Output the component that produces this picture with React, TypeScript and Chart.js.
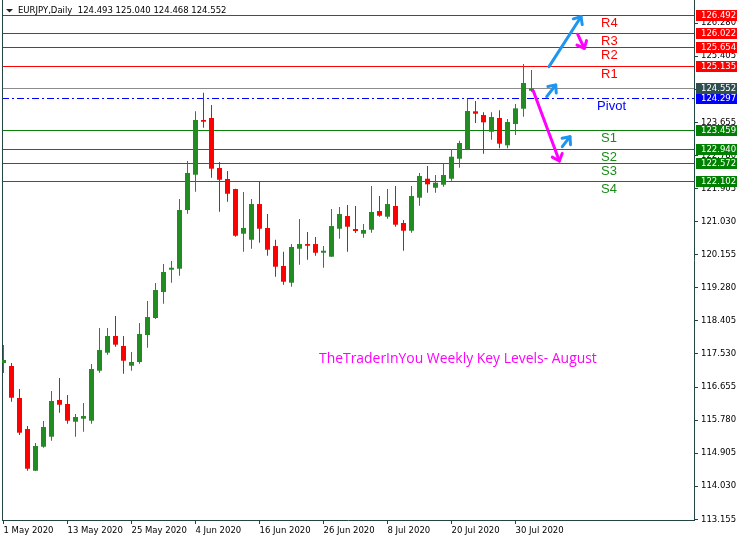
import React, { useEffect, useRef } from 'react';
import { Chart, registerables } from 'chart.js';

Chart.register(...registerables);

// ---------- data ----------
const symbol = 'EURJPY';
const timeframe = 'Daily';

const dates = [
  '2020-05-01', '2020-05-04', '2020-05-05', '2020-05-06', '2020-05-07', '2020-05-08',
  '2020-05-11', '2020-05-12', '2020-05-13', '2020-05-14', '2020-05-15',
  '2020-05-18', '2020-05-19', '2020-05-20', '2020-05-21', '2020-05-22',
  '2020-05-25', '2020-05-26', '2020-05-27', '2020-05-28', '2020-05-29',
  '2020-06-01', '2020-06-02', '2020-06-03', '2020-06-04', '2020-06-05',
  '2020-06-08', '2020-06-09', '2020-06-10', '2020-06-11', '2020-06-12',
  '2020-06-15', '2020-06-16', '2020-06-17', '2020-06-18', '2020-06-19',
  '2020-06-22', '2020-06-23', '2020-06-24', '2020-06-25', '2020-06-26',
  '2020-06-29', '2020-06-30', '2020-07-01', '2020-07-02', '2020-07-03',
  '2020-07-06', '2020-07-07', '2020-07-08', '2020-07-09', '2020-07-10',
  '2020-07-13', '2020-07-14', '2020-07-15', '2020-07-16', '2020-07-17',
  '2020-07-20', '2020-07-21', '2020-07-22', '2020-07-23', '2020-07-24',
  '2020-07-27', '2020-07-28', '2020-07-29', '2020-07-30', '2020-07-31',
  '2020-08-03',
];

const opens = [
  117.29, 117.21, 116.364, 115.543, 114.44, 115.075,
  115.34, 116.311, 116.205, 115.737, 115.816,
  115.763, 117.086, 117.562, 118.004, 117.739,
  117.218, 117.316, 118.03, 118.48, 119.168,
  119.758, 119.784, 121.337, 122.271, 123.718,
  123.771, 122.448, 122.157, 121.892, 120.71,
  120.551, 121.495, 120.861, 120.384, 119.856,
  119.414, 120.313, 120.437, 120.437, 120.207,
  120.102, 120.842, 121.178, 120.834, 120.71,
  120.816, 121.31, 121.16, 121.443, 120.993,
  120.789, 121.663, 122.165, 121.927, 122.006,
  122.165, 122.694, 122.943, 123.948, 123.85,
  123.408, 123.771, 123.049, 123.612, 124.017,
  124.493,
];
const highs = [
  117.766, 117.29, 116.602, 115.623, 115.173, 115.755,
  116.549, 116.893, 116.443, 115.94, 116.231,
  117.263, 118.215, 118.215, 118.533, 118.004,
  117.58, 118.348, 118.93, 119.406, 119.908,
  119.988, 121.627, 122.633, 123.948, 124.441,
  124.115, 122.607, 122.369, 121.9, 121.813,
  121.627, 122.104, 121.231, 120.551, 120.234,
  120.437, 121.098, 120.755, 120.622, 120.384,
  121.363, 121.416, 121.469, 121.443, 120.966,
  121.972, 121.707, 121.892, 121.972, 121.072,
  121.972, 122.316, 122.501, 122.263, 122.554,
  122.951, 123.17, 124.281, 124.221, 123.922,
  123.922, 123.975, 123.744, 124.141, 125.199,
  125.04,
];
const lows = [
  117.025, 116.265, 115.385, 114.44, 114.43, 115.049,
  115.234, 115.975, 115.684, 115.34, 115.472,
  115.684, 117.033, 117.509, 117.721, 117.006,
  117.086, 117.271, 117.694, 118.454, 118.858,
  119.414, 119.599, 121.239, 121.821, 123.514,
  122.191, 121.292, 121.557, 120.631, 120.234,
  120.313, 120.472, 120.128, 119.572, 119.361,
  119.308, 119.89, 120.022, 120.128, 119.811,
  120.1, 120.578, 120.234, 120.728, 120.604,
  120.737, 121.16, 121.107, 120.895, 120.26,
  120.737, 121.451, 121.795, 121.795, 121.954,
  122.112, 122.456, 122.94, 123.638, 122.827,
  123.197, 122.969, 122.969, 123.321, 123.805,
  124.468,
];
const closes = [
  117.37, 116.371, 115.446, 114.493, 115.094, 115.596,
  116.284, 116.186, 115.763, 115.861, 115.887,
  117.131, 117.633, 118.004, 117.774, 117.35,
  117.316, 118.057, 118.506, 119.221, 119.697,
  119.81, 121.337, 122.316, 123.718, 123.673,
  122.43, 122.138, 121.768, 120.657, 120.861,
  121.495, 120.842, 120.287, 119.837, 119.44,
  120.358, 120.437, 120.392, 120.207, 120.26,
  120.913, 121.231, 120.895, 120.781, 120.808,
  121.284, 121.186, 121.495, 120.948, 120.789,
  121.707, 122.236, 122.017, 122.059, 122.263,
  122.747, 123.109, 123.956, 123.885, 123.657,
  123.797, 123.091, 123.665, 124.027, 124.697,
  124.552,
];

const xTickIndices = [0, 8, 16, 24, 32, 40, 48, 56, 64];
const xTickLabels = [
  '1 May 2020', '13 May 2020', '25 May 2020', '4 Jun 2020', '16 Jun 2020',
  '26 Jun 2020', '8 Jul 2020', '20 Jul 2020', '30 Jul 2020',
];
const yTickValues = [
  113.155, 114.03, 114.905, 115.78, 116.655, 117.53, 118.405, 119.28,
  120.155, 121.03, 121.905, 122.78, 123.655, 124.53, 125.405, 126.28,
];

const levelNames = ['R4', 'R3', 'R2', 'R1', 'Pivot', 'S1', 'S2', 'S3', 'S4'];
const levelValues = [126.492, 126.022, 125.654, 125.135, 124.297, 123.459, 122.94, 122.572, 122.102];

const arrowFromIdx = [68.19, 71.78, 67.9, 66.23, 69.85];
const arrowFromPrice = [125.129, 125.986, 124.335, 124.486, 123.012];
const arrowToIdx = [72.19, 72.6, 69.03, 69.48, 70.81];
const arrowToPrice = [126.451, 125.615, 124.644, 122.634, 123.277];

const noteText = 'TheTraderInYou Weekly Key Levels- August';
const noteIdx = 56.8;
const notePrice = 117.396;

// ---------- styles ----------
const BULL = '#228b22';
const BEAR = '#ff0000';
const RES = '#ff0000';
const SUP = '#0a800a';
const SUP_TEXT = '#1a8a1a';
const PIVOT = '#0000ff';
const PRICE_LINE = '#8c8c8c';
const PRICE_BOX = '#2f4f4f';
const AXIS = '#234444';
const TEXT = '#000000';
const MAGENTA = '#ff00ff';
const BLUE = '#1e96f0';
const AXIS_FONT = 'DejaVu Sans';
const LABEL_IDX = 74.7;
const PIVOT_LABEL_IDX = 74.2;

function levelStyle(name: string) {
  if (name === 'Pivot') return { line: PIVOT, box: PIVOT, text: PIVOT };
  if (name.startsWith('R')) return { line: RES, box: RES, text: RES };
  return { line: SUP, box: '#008000', text: SUP_TEXT };
}

function drawArrow(ctx: CanvasRenderingContext2D, x1: number, y1: number, x2: number, y2: number, color: string) {
  ctx.save();
  ctx.strokeStyle = color;
  ctx.lineWidth = 3;
  ctx.lineCap = 'round';
  ctx.lineJoin = 'round';
  ctx.beginPath();
  ctx.moveTo(x1, y1);
  ctx.lineTo(x2, y2);
  ctx.stroke();
  const a = Math.atan2(y2 - y1, x2 - x1);
  const L = 8;
  const s = 0.72;
  ctx.beginPath();
  ctx.moveTo(x2 - L * Math.cos(a - s), y2 - L * Math.sin(a - s));
  ctx.lineTo(x2, y2);
  ctx.lineTo(x2 - L * Math.cos(a + s), y2 - L * Math.sin(a + s));
  ctx.stroke();
  ctx.restore();
}

const overlayPlugin = {
  id: 'mt4Overlay',
  beforeDatasetsDraw(chart: any) {
    const { ctx, chartArea: a, scales } = chart;
    const y = scales.y;
    ctx.save();
    ctx.lineWidth = 1;
    levelNames.forEach((name, i) => {
      const st = levelStyle(name);
      const py = Math.round(y.getPixelForValue(levelValues[i])) + 0.5;
      ctx.strokeStyle = st.line;
      ctx.setLineDash(name === 'Pivot' ? [7, 3, 2, 3] : []);
      ctx.beginPath();
      ctx.moveTo(a.left, py);
      ctx.lineTo(a.right, py);
      ctx.stroke();
    });
    ctx.setLineDash([]);
    const last = closes.length - 1;
    const cp = Math.round(y.getPixelForValue(closes[last])) + 0.5;
    ctx.strokeStyle = PRICE_LINE;
    ctx.beginPath();
    ctx.moveTo(a.left, cp);
    ctx.lineTo(a.right, cp);
    ctx.stroke();
    // left frame
    ctx.strokeStyle = AXIS;
    ctx.beginPath();
    ctx.moveTo(a.left + 0.5, a.top);
    ctx.lineTo(a.left + 0.5, a.bottom);
    ctx.stroke();
    ctx.restore();
  },
  afterDraw(chart: any) {
    const { ctx, chartArea: a, scales } = chart;
    const x = scales.x;
    const y = scales.y;
    ctx.save();

    // arrows
    arrowFromIdx.forEach((_, i) => {
      const x1 = x.getPixelForValue(arrowFromIdx[i]);
      const y1 = y.getPixelForValue(arrowFromPrice[i]);
      const x2 = x.getPixelForValue(arrowToIdx[i]);
      const y2 = y.getPixelForValue(arrowToPrice[i]);
      drawArrow(ctx, x1, y1, x2, y2, arrowToPrice[i] > arrowFromPrice[i] ? BLUE : MAGENTA);
    });

    // level names
    ctx.font = '13px "Liberation Sans"';
    ctx.textBaseline = 'top';
    ctx.textAlign = 'left';
    levelNames.forEach((name, i) => {
      const st = levelStyle(name);
      const py = Math.round(y.getPixelForValue(levelValues[i]));
      const px = x.getPixelForValue(name === 'Pivot' ? PIVOT_LABEL_IDX : LABEL_IDX);
      ctx.fillStyle = st.text;
      ctx.fillText(name, px, py + 2);
    });

    // note text
    ctx.font = '14px "Open Sans"';
    const w14 = ctx.measureText(noteText).width;
    const fs = 14 * 278 / w14;
    ctx.font = `${fs.toFixed(2)}px "Open Sans"`;
    ctx.fillStyle = MAGENTA;
    ctx.textAlign = 'center';
    ctx.textBaseline = 'middle';
    ctx.fillText(noteText, x.getPixelForValue(noteIdx), y.getPixelForValue(notePrice));

    // header
    const last = closes.length - 1;
    ctx.fillStyle = '#222222';
    ctx.beginPath();
    ctx.moveTo(6, 9);
    ctx.lineTo(13, 9);
    ctx.lineTo(9.5, 12.5);
    ctx.closePath();
    ctx.fill();
    ctx.font = `8.5px "${AXIS_FONT}"`;
    ctx.textAlign = 'left';
    ctx.textBaseline = 'middle';
    ctx.fillStyle = TEXT;
    const header = `${symbol},${timeframe}  ${opens[last].toFixed(3)} ${highs[last].toFixed(3)} ${lows[last].toFixed(3)} ${closes[last].toFixed(3)}`;
    ctx.fillText(header, 18, 10.5);

    // right-side price boxes
    const boxX = a.right + 2;
    const boxW = 41;
    const drawBox = (value: number, color: string) => {
      const cy = Math.round(y.getPixelForValue(value));
      ctx.fillStyle = color;
      ctx.fillRect(boxX, cy - 5, boxW, 11);
      ctx.fillStyle = '#ffffff';
      ctx.fillText(value.toFixed(3), a.right + 7, cy + 0.5);
    };
    ctx.font = `8.5px "${AXIS_FONT}"`;
    levelNames.forEach((name, i) => drawBox(levelValues[i], levelStyle(name).box));
    drawBox(closes[last], PRICE_BOX);

    ctx.restore();
  },
};

export default function App() {
  const canvasRef = useRef<HTMLCanvasElement | null>(null);

  useEffect(() => {
    if (!canvasRef.current) return;
    const colors = opens.map((o, i) => (closes[i] >= o ? BULL : BEAR));
    const chart = new Chart(canvasRef.current, {
      type: 'bar',
      data: {
        datasets: [
          {
            label: 'wicks',
            data: dates.map((_, i) => ({ x: i, y: [lows[i], highs[i]] })) as any,
            backgroundColor: colors,
            borderWidth: 0,
            barThickness: 1,
            maxBarThickness: 1,
            grouped: false,
            inflateAmount: 0,
            order: 2,
          } as any,
          {
            label: 'bodies',
            data: dates.map((_, i) => ({ x: i, y: [opens[i], closes[i]] })) as any,
            backgroundColor: colors,
            borderWidth: 0,
            barThickness: 5,
            maxBarThickness: 5,
            minBarLength: 1,
            grouped: false,
            inflateAmount: 0,
            order: 1,
          } as any,
        ],
      },
      options: {
        responsive: false,
        maintainAspectRatio: false,
        animation: false,
        events: [],
        layout: { padding: { left: 2, top: 0, right: 0, bottom: 0 } },
        plugins: { legend: { display: false }, tooltip: { enabled: false } },
        scales: {
          x: {
            type: 'linear',
            position: 'bottom',
            offset: false,
            min: -0.1875,
            max: 86.3125,
            afterBuildTicks: (s: any) => {
              s.ticks = xTickIndices.map((v) => ({ value: v }));
            },
            afterFit: (s: any) => {
              s.height = 22;
              s.paddingLeft = 0;
              s.paddingRight = 0;
            },
            grid: { offset: false, drawOnChartArea: false, drawTicks: true, tickLength: 4, color: AXIS },
            border: { display: true, color: AXIS },
            ticks: {
              autoSkip: false,
              maxRotation: 0,
              minRotation: 0,
              align: 'start',
              padding: 2,
              color: TEXT,
              font: { family: AXIS_FONT, size: 8.5 },
              callback: (v: any) => {
                const k = xTickIndices.indexOf(Number(v));
                return k >= 0 ? xTickLabels[k] : '';
              },
            },
          } as any,
          y: {
            type: 'linear',
            position: 'right',
            offset: false,
            min: 113.1365,
            max: 126.8931,
            afterBuildTicks: (s: any) => {
              s.ticks = yTickValues.map((v) => ({ value: v }));
            },
            afterFit: (s: any) => {
              s.width = 46;
              s.paddingTop = 0;
              s.paddingBottom = 0;
            },
            grid: { drawOnChartArea: false, drawTicks: true, tickLength: 4, color: AXIS },
            border: { display: true, color: AXIS },
            ticks: {
              autoSkip: false,
              padding: 3,
              color: TEXT,
              font: { family: AXIS_FONT, size: 8.5 },
              callback: (v: any) => Number(v).toFixed(3),
            },
          } as any,
        },
      },
      plugins: [overlayPlugin as any],
    });
    return () => chart.destroy();
  }, []);

  return (
    <div style={{ position: 'fixed', left: 0, top: 0, width: 740, height: 542, background: '#ffffff' }}>
      <canvas ref={canvasRef} width={740} height={542} style={{ display: 'block' }} />
    </div>
  );
}
